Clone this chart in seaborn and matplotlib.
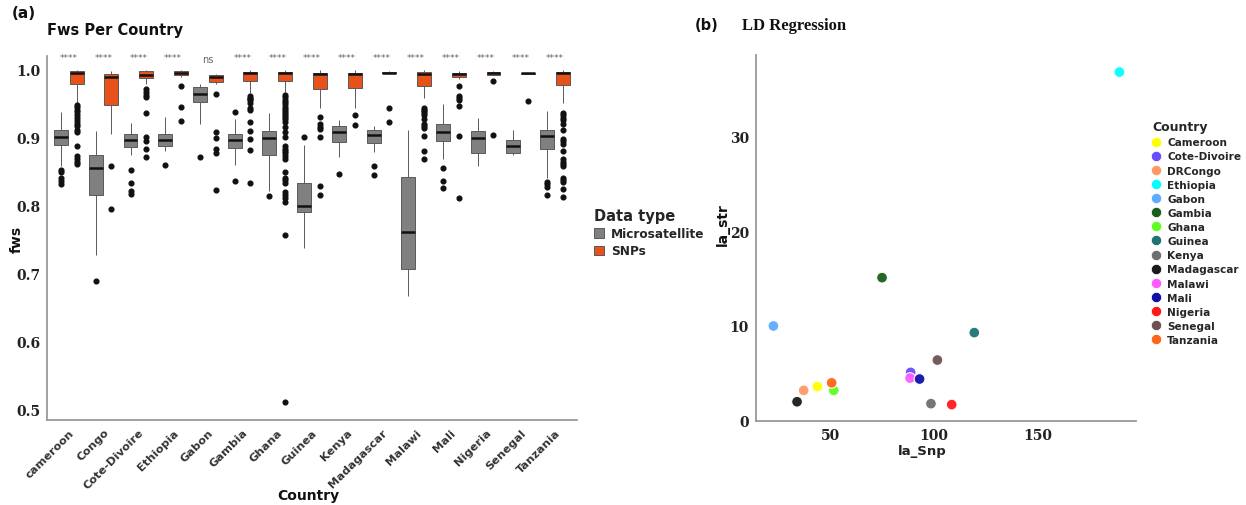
import numpy as np
import pandas as pd
import seaborn as sns
import matplotlib
matplotlib.use("Agg")
import matplotlib.pyplot as plt
from matplotlib.lines import Line2D

# ---------------- data: panel (a) box summaries ----------------
countries = ["cameroon", "Congo", "Cote-Divoire", "Ethiopia", "Gabon", "Gambia", "Ghana",
             "Guinea", "Kenya", "Madagascar", "Malawi", "Mali", "Nigeria", "Senegal", "Tanzania"]
sig_labels = ["****", "****", "****", "****", "ns", "****", "****", "****", "****", "****",
              "****", "****", "****", "****", "****"]

micro_q1 = [0.889, 0.815, 0.887, 0.888, 0.953, 0.885, 0.874, 0.790, 0.894, 0.893, 0.707, 0.895, 0.877, 0.877, 0.883]
micro_med = [0.901, 0.855, 0.897, 0.897, 0.965, 0.897, 0.899, 0.799, 0.909, 0.904, 0.761, 0.909, 0.900, 0.888, 0.902]
micro_q3 = [0.911, 0.875, 0.906, 0.905, 0.975, 0.905, 0.910, 0.833, 0.918, 0.911, 0.842, 0.920, 0.910, 0.897, 0.912]
micro_lo = [0.859, 0.727, 0.875, 0.880, 0.921, 0.860, 0.822, 0.737, 0.872, 0.879, 0.667, 0.868, 0.859, 0.874, 0.840]
micro_hi = [0.938, 0.910, 0.922, 0.930, 0.980, 0.927, 0.937, 0.889, 0.926, 0.917, 0.911, 0.950, 0.929, 0.911, 0.939]
micro_out = [
    [0.853, 0.849, 0.840, 0.836, 0.832],
    [0.689],
    [0.853, 0.833, 0.822, 0.817],
    [0.860],
    [0.871],
    [0.938, 0.836],
    [0.814],
    [0.901],
    [0.846],
    [0.859, 0.845],
    [],
    [0.856, 0.836, 0.826],
    [],
    [],
    [0.835, 0.832, 0.828, 0.816],
]

snp_q1 = [0.979, 0.948, 0.988, 0.992, 0.982, 0.984, 0.984, 0.972, 0.974, 0.995, 0.977, 0.989, 0.993, 0.9945, 0.978]
snp_med = [0.996, 0.989, 0.993, 0.996, 0.990, 0.996, 0.996, 0.994, 0.994, 0.996, 0.994, 0.994, 0.995, 0.995, 0.996]
snp_q3 = [0.998, 0.994, 0.998, 0.999, 0.993, 0.997, 0.997, 0.996, 0.996, 0.997, 0.997, 0.996, 0.997, 0.9955, 0.997]
snp_lo = [0.952, 0.905, 0.980, 0.989, 0.979, 0.966, 0.967, 0.944, 0.944, 0.994, 0.958, 0.986, 0.992, 0.994, 0.951]
snp_hi = [1.000, 0.999, 1.000, 1.000, 0.994, 1.000, 1.000, 1.000, 1.000, 0.998, 1.000, 0.999, 0.998, 0.996, 1.000]
snp_out = [
    [0.949, 0.945, 0.941, 0.938, 0.934, 0.929, 0.925, 0.921, 0.917, 0.912, 0.909, 0.888, 0.873, 0.869, 0.865, 0.861],
    [0.858, 0.795],
    [0.972, 0.967, 0.963, 0.960, 0.936, 0.901, 0.895, 0.884, 0.872],
    [0.977, 0.945, 0.925],
    [0.964, 0.908, 0.900, 0.883, 0.877, 0.823],
    [0.962, 0.959, 0.957, 0.955, 0.952, 0.944, 0.941, 0.924, 0.910, 0.898, 0.882, 0.834],
    [0.963, 0.960, 0.956, 0.953, 0.950, 0.946, 0.943, 0.940, 0.937, 0.933, 0.930, 0.927, 0.923,
     0.916, 0.908, 0.901, 0.888, 0.884, 0.880, 0.877, 0.873, 0.869, 0.849, 0.841, 0.838, 0.834,
     0.820, 0.815, 0.811, 0.806, 0.756, 0.511],
    [0.931, 0.920, 0.916, 0.913, 0.901, 0.829, 0.816],
    [0.933, 0.919],
    [0.944, 0.923],
    [0.944, 0.941, 0.939, 0.937, 0.934, 0.927, 0.921, 0.918, 0.915, 0.903, 0.881, 0.869],
    [0.977, 0.962, 0.959, 0.955, 0.947, 0.902, 0.811],
    [0.983, 0.904],
    [0.954],
    [0.937, 0.933, 0.929, 0.926, 0.921, 0.911, 0.898, 0.895, 0.891, 0.880, 0.868, 0.864, 0.861,
     0.858, 0.841, 0.838, 0.835, 0.825, 0.813],
]

# ---------------- data: panel (b) ----------------
ld_countries = ["Cameroon", "Cote-Divoire", "DRCongo", "Ethiopia", "Gabon", "Gambia", "Ghana", "Guinea",
                "Kenya", "Madagascar", "Malawi", "Mali", "Nigeria", "Senegal", "Tanzania"]
la_snp = [43.9, 88.9, 37.3, 189.6, 22.7, 75.1, 51.8, 119.6, 98.7, 34.1, 88.6, 93.2, 108.7, 101.8, 50.8]
la_str = [3.6, 5.1, 3.2, 36.8, 10.0, 15.1, 3.2, 9.3, 1.8, 2.0, 4.5, 4.4, 1.7, 6.4, 4.0]
ld_colors = ["#FFFF00", "#6A4CFF", "#FF9966", "#00FFFF", "#5CACFF", "#1B5E1B", "#5CFF1F", "#1F7373",
             "#6E6E6E", "#1A1A1A", "#FF5CFF", "#1010A8", "#FF1A1A", "#6B5353", "#FF6619"]


def box_values(q1, med, q3, lo, hi, out, r=200):
    # sample whose quartiles / whiskers / outliers reproduce the read box summary
    return list(out) + [lo] + [q1] * r + [med] * r + [q3] * r + [hi]


rows = []
for i, c in enumerate(countries):
    for v in box_values(micro_q1[i], micro_med[i], micro_q3[i], micro_lo[i], micro_hi[i], micro_out[i]):
        rows.append((c, "Microsatellite", v))
    for v in box_values(snp_q1[i], snp_med[i], snp_q3[i], snp_lo[i], snp_hi[i], snp_out[i]):
        rows.append((c, "SNPs", v))
df = pd.DataFrame(rows, columns=["Country", "Data type", "fws"])

ld_df = pd.DataFrame({"Country": ld_countries, "la_Snp": la_snp, "la_str": la_str})

# ---------------- figure ----------------
sns.set_theme(style="white")
plt.rcParams["font.family"] = ["DejaVu Sans"]

W, H = 1246, 506
fig = plt.figure(figsize=(W / 100, H / 100), dpi=100)

def fx(px):
    return px / W

def fy(py):
    return 1 - py / H

axis_col = "#9a9a9a"
tick_font = dict(family="DejaVu Serif", weight="bold", size=10)
SNP_COL = "#E6521A"
MIC_COL = "#808080"

# ---- panel (a)
ax = fig.add_axes([fx(47), fy(421), fx(577) - fx(47), fy(57) - fy(421)])
sns.boxplot(data=df, x="Country", y="fws", hue="Data type", order=countries,
            hue_order=["Microsatellite", "SNPs"],
            palette={"Microsatellite": MIC_COL, "SNPs": SNP_COL}, saturation=1,
            width=0.9, gap=0.11, linecolor="#5a5a5a", linewidth=0.7,
            fliersize=3.4,
            flierprops=dict(marker="o", markerfacecolor="#111111", markeredgecolor="#111111"),
            medianprops=dict(color="#111111", linewidth=1.8),
            showcaps=False, ax=ax)
ax.set_xlim(-0.63, 14.63)
ax.set_ylim(0.4838, 1.0206)
ax.set_yticks([0.5, 0.6, 0.7, 0.8, 0.9, 1.0])
ax.set_yticklabels(["0.5", "0.6", "0.7", "0.8", "0.9", "1.0"], **tick_font, color="#222222")
ax.set_xticks(range(len(countries)))
ax.set_xticklabels(countries, rotation=45, ha="right", rotation_mode="anchor",
                   fontsize=8.2, fontweight="bold", color="#333333")
for i, s in enumerate(sig_labels):
    ax.text(i, 1.0185 if s != "ns" else 1.0165, s, ha="center", va="center",
            fontsize=6.5 if s != "ns" else 7, color="#666666")
ax.set_xlabel("Country", fontsize=10, fontweight="bold", color="#111111")
ax.xaxis.set_label_coords(fx(308), fy(489), transform=fig.transFigure)
ax.set_ylabel("fws", fontsize=10, fontweight="bold", color="#111111")
ax.yaxis.set_label_coords(fx(24), fy(239), transform=fig.transFigure)
for sp in ["top", "right"]:
    ax.spines[sp].set_visible(False)
for sp in ["left", "bottom"]:
    ax.spines[sp].set_color(axis_col)
    ax.spines[sp].set_linewidth(1.3)
ax.tick_params(axis="both", length=3, width=0.8, color=axis_col, pad=2)
ax.legend_.remove()
handles = [
    plt.Rectangle((0, 0), 1, 1, facecolor=MIC_COL, edgecolor="#5a5a5a", linewidth=0.7),
    plt.Rectangle((0, 0), 1, 1, facecolor=SNP_COL, edgecolor="#5a5a5a", linewidth=0.7),
]
fig.legend(handles, ["Microsatellite", "SNPs"], title="Data type",
           loc="upper left", bbox_to_anchor=(fx(583), fy(198)), frameon=False,
           prop=dict(size=8.7, weight="bold"),
           title_fontproperties=dict(size=10.5, weight="bold"),
           handlelength=0.8, handleheight=0.8, handletextpad=0.6, labelspacing=0.35,
           alignment="left")
fig.text(fx(12), fy(14), "(a)", fontsize=11, fontweight="bold", va="center", ha="left", color="#111111")
fig.text(fx(47), fy(31), "Fws Per Country", fontsize=10.5, fontweight="bold", va="center", ha="left",
         color="#111111")

# ---- panel (b)
ax2 = fig.add_axes([fx(756), fy(421.7), fx(1136) - fx(756), fy(56) - fy(421.7)])
sns.scatterplot(data=ld_df, x="la_Snp", y="la_str", hue="Country", hue_order=ld_countries,
                palette=dict(zip(ld_countries, ld_colors)), s=60, edgecolor="white", linewidth=0.8,
                alpha=0.95, ax=ax2)
ax2.set_xlim(14.3, 197.6)
ax2.set_ylim(0, 38.6)
ax2.set_xticks([50, 100, 150])
ax2.set_xticklabels(["50", "100", "150"], **tick_font, color="#222222")
ax2.set_yticks([0, 10, 20, 30])
ax2.set_yticklabels(["0", "10", "20", "30"], **tick_font, color="#222222")
ax2.set_xlabel("la_Snp", fontsize=9.5, fontweight="bold", color="#222222")
ax2.xaxis.set_label_coords(fx(922), fy(445), transform=fig.transFigure)
ax2.set_ylabel("la_str", fontsize=10, fontweight="bold", color="#111111")
ax2.yaxis.set_label_coords(fx(730), fy(225), transform=fig.transFigure)
for sp in ["top", "right"]:
    ax2.spines[sp].set_visible(False)
for sp in ["left", "bottom"]:
    ax2.spines[sp].set_color(axis_col)
    ax2.spines[sp].set_linewidth(1.3)
ax2.tick_params(axis="both", length=3, width=0.8, color=axis_col, pad=2)
ax2.legend_.remove()
lh = [Line2D([0], [0], marker="o", linestyle="", markersize=7.5, markerfacecolor=c,
             markeredgecolor="white", markeredgewidth=0.6) for c in ld_colors]
fig.legend(lh, ld_countries, title="Country", loc="upper left",
           bbox_to_anchor=(fx(1148), fy(117)), frameon=False,
           prop=dict(size=7.6, weight="bold"),
           title_fontproperties=dict(size=9, weight="bold"),
           handlelength=0.8, handletextpad=0.6, labelspacing=0.39, alignment="left",
           borderaxespad=0)
fig.text(fx(695), fy(26), "(b)", fontsize=10.5, fontweight="bold", va="center", ha="left", color="#111111")
fig.text(fx(742), fy(26), "LD Regression", fontsize=12, fontweight="bold", family="Liberation Serif",
         va="center", ha="left", color="#111111")

fig.savefig("out.png", dpi=100)
